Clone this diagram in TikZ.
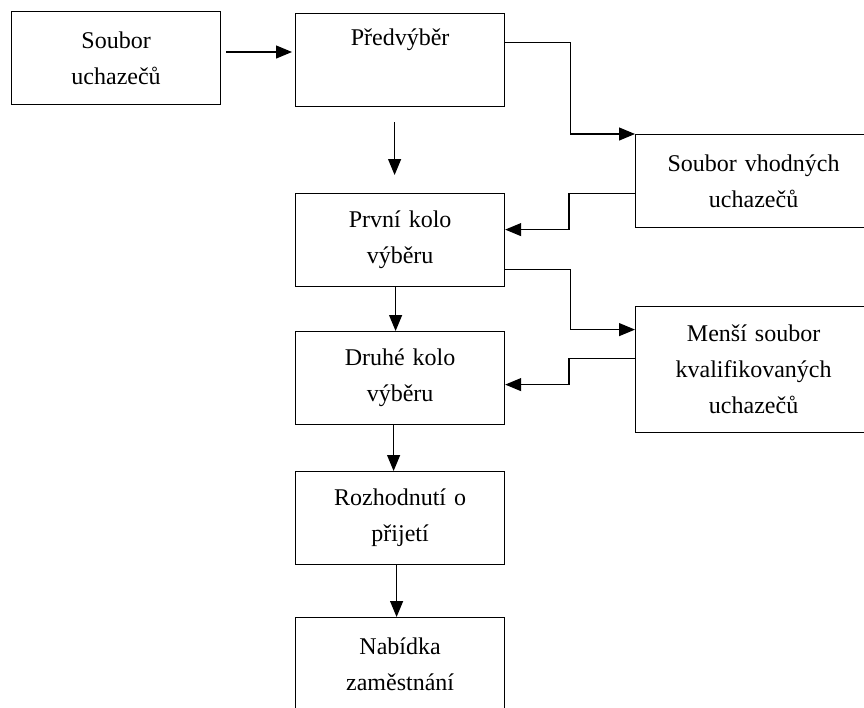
\documentclass[tikz,border=0pt]{standalone}
\usepackage{fontspec}
\setmainfont{Liberation Serif}
\usetikzlibrary{arrows.meta,positioning}

\begin{document}
\begin{tikzpicture}[x=0.5pt,y=-0.5pt,line width=0.6pt]
  \tikzstyle{stage}=[draw,rectangle,anchor=north west,inner sep=0pt,
    minimum width=104.5pt,minimum height=46.5pt,text width=100pt,align=center,
    font=\fontsize{12}{18}\selectfont]
  \tikzstyle{pool}=[stage,minimum width=118pt,text width=112pt]
  \tikzstyle{myarrow}=[-{Triangle[length=8pt,width=6.5pt]}]
  \useasboundingbox (0,0) rectangle (864,708);

  \node[stage] (soubor) at (11,11) {Soubor\\uchazečů};
  \foreach \name/\y/\text in {predvyber/13/{Předvýběr\\\strut}, prvni/193/{První kolo\\výběru},
                              druhe/331/{Druhé kolo\\výběru}, rozhodnuti/471/{Rozhodnutí o\\přijetí},
                              nabidka/617/{Nabídka\\zaměstnání}}
    \node[stage] (\name) at (295,\y) {\text};
  \node[pool] (vhodni) at (635,134) {Soubor vhodných\\uchazečů};
  \node[pool,minimum height=63pt] (mensi) at (635,306) {Menší soubor\\kvalifikovaných\\uchazečů};

  % main line
  \coordinate (start) at (226,52);
  \draw[myarrow,shorten >=1.5pt] (start) -- (start -| predvyber.west);
  \draw[myarrow,shorten <=7.5pt,shorten >=9pt] ([xshift=-2.75pt]predvyber.south) -- ([xshift=-2.75pt]prvni.north);
  \foreach \from/\to/\dx in {prvni/druhe/-2.25pt,druhe/rozhodnuti/-3.25pt,rozhodnuti/nabidka/-1.75pt}
    { \draw[myarrow] ([xshift=\dx]\from.south) -- ([xshift=\dx]\to.north); }

  % side loops
  \draw[myarrow] ([yshift=8.75pt]predvyber.east) -- ++(65,0) |- (vhodni.north west);
  \draw[myarrow] ([yshift=-6pt]vhodni.west) -- ++(-66,0) |- ([yshift=5.25pt]prvni.east);
  \draw[myarrow] ([yshift=-14.75pt]prvni.east) -- ++(65,0) |- ([yshift=20pt]mensi.west);
  \draw[myarrow] ([yshift=5.5pt]mensi.west) -- ++(-66,0) |- ([yshift=-3.25pt]druhe.east);
\end{tikzpicture}
\end{document}
